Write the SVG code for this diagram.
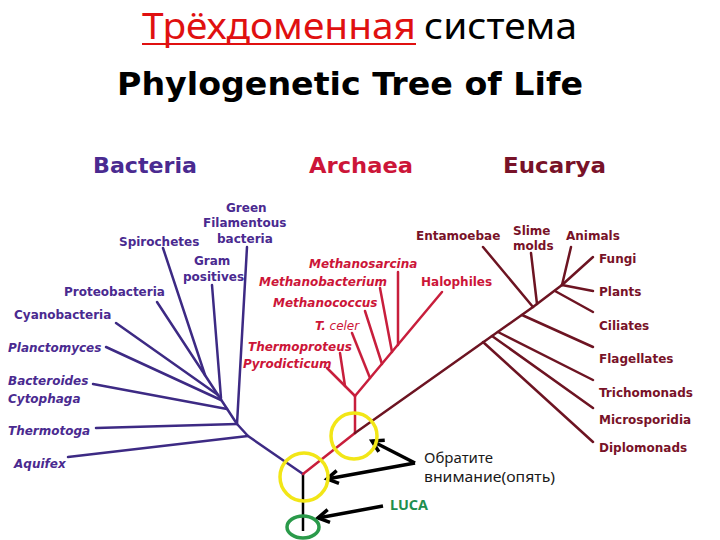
<svg xmlns="http://www.w3.org/2000/svg" width="720" height="540" viewBox="0 0 720 540">
<defs>
<style>
.lbl{font-family:"DejaVu Sans",Verdana,sans-serif;font-weight:bold;font-size:12px}
.it{font-style:italic}
.bac{fill:#4a2a90}
.arc{fill:#cc1538}
.euc{fill:#781228}
.hdr{font-family:"DejaVu Sans",Verdana,sans-serif;font-weight:bold;font-size:21.5px}
.lb{stroke:#3d2a84;stroke-width:2.5;fill:none;stroke-linecap:round;stroke-linejoin:round}
.la{stroke:#c81e3c;stroke-width:2.5;fill:none;stroke-linecap:round;stroke-linejoin:round}
.le{stroke:#6d1422;stroke-width:2.5;fill:none;stroke-linecap:round;stroke-linejoin:round}
.arrow{stroke:#000;stroke-width:3.5;fill:none;marker-end:url(#ah)}
.yc{fill:none;stroke:#f2e617;stroke-width:3.5}
.note{font-family:"Noto Sans","Open Sans",sans-serif;font-size:15px;fill:#1a1a1a}
</style>
<marker id="ah" markerUnits="userSpaceOnUse" markerWidth="20" markerHeight="20" refX="14" refY="8" orient="auto" viewBox="0 0 20 16">
<path d="M3,1.5 L14,8 L3,14.5" fill="none" stroke="#000" stroke-width="3.5" stroke-linejoin="miter"/>
</marker>
</defs>
<rect width="720" height="540" fill="#ffffff"/>

<g id="title">
<text x="142" y="39" font-family="'Noto Sans','Open Sans',sans-serif" font-size="36" fill="#e01010" textLength="274" lengthAdjust="spacingAndGlyphs">Трёхдоменная</text>
<line x1="142" y1="44" x2="416" y2="44" stroke="#e01010" stroke-width="2"/>
<text x="424" y="39" font-family="'Noto Sans','Open Sans',sans-serif" font-size="36" fill="#000" textLength="153" lengthAdjust="spacingAndGlyphs">система</text>
<text x="117" y="95" font-family="'DejaVu Sans',Verdana,sans-serif" font-weight="bold" font-size="32" fill="#000" textLength="466" lengthAdjust="spacingAndGlyphs">Phylogenetic Tree of Life</text>
</g>

<g id="headers">
<text class="hdr bac" x="93" y="173" textLength="104" lengthAdjust="spacingAndGlyphs">Bacteria</text>
<text class="hdr arc" x="309" y="173" textLength="104" lengthAdjust="spacingAndGlyphs">Archaea</text>
<text class="hdr euc" x="503" y="173" textLength="103" lengthAdjust="spacingAndGlyphs">Eucarya</text>
</g>

<g id="connectors">
<!-- root -->
<line x1="303" y1="474" x2="303" y2="531" stroke="#000" stroke-width="2.5"/>
<!-- bacteria -->
<polyline class="lb" points="303,474 248,436 237,424 218,395"/>
<line class="lb" x1="68" y1="457" x2="248" y2="436"/>
<line class="lb" x1="96" y1="428" x2="237" y2="424"/>
<line class="lb" x1="247" y1="247" x2="237" y2="424"/>
<line class="lb" x1="93" y1="384" x2="227" y2="409"/>
<line class="lb" x1="106" y1="347" x2="221" y2="400"/>
<line class="lb" x1="116" y1="323" x2="218" y2="395"/>
<line class="lb" x1="157" y1="302" x2="218" y2="395"/>
<line class="lb" x1="163" y1="248" x2="205" y2="375"/>
<line class="lb" x1="212" y1="285" x2="221" y2="398"/>
<!-- archaea -->
<line class="la" x1="303" y1="474" x2="355" y2="433"/>
<line class="la" x1="355" y1="433" x2="355" y2="396"/>
<line class="la" x1="355" y1="396" x2="327" y2="368"/>
<line class="la" x1="345" y1="386" x2="340" y2="353"/>
<line class="la" x1="355" y1="396" x2="442" y2="292"/>
<line class="la" x1="370" y1="378" x2="352" y2="333"/>
<line class="la" x1="382" y1="364" x2="365" y2="311"/>
<line class="la" x1="392" y1="352" x2="380" y2="288"/>
<line class="la" x1="398" y1="345" x2="398" y2="272"/>
<!-- eucarya -->
<polyline class="le" points="355,433 533,307 562,285"/>
<line class="le" x1="483" y1="342" x2="593" y2="442"/>
<line class="le" x1="492" y1="336" x2="593" y2="408"/>
<line class="le" x1="498" y1="332" x2="593" y2="380"/>
<line class="le" x1="522" y1="315" x2="593" y2="347"/>
<line class="le" x1="483" y1="247" x2="533" y2="307"/>
<line class="le" x1="531" y1="253" x2="537" y2="304"/>
<line class="le" x1="555" y1="291" x2="593" y2="312"/>
<line class="le" x1="562" y1="285" x2="593" y2="291"/>
<line class="le" x1="562" y1="285" x2="593" y2="257"/>
<line class="le" x1="571" y1="247" x2="562" y2="285"/>
<!-- annotation arrows -->
<line class="arrow" x1="415" y1="463" x2="372" y2="441"/>
<line class="arrow" x1="415" y1="463" x2="327" y2="479"/>
<line class="arrow" x1="383" y1="506" x2="318" y2="518"/>
</g>

<g id="bacteria-labels">
<text class="lbl bac" x="226" y="212">Green</text>
<text class="lbl bac" x="203" y="227">Filamentous</text>
<text class="lbl bac" x="217" y="243">bacteria</text>
<text class="lbl bac" x="119" y="246">Spirochetes</text>
<text class="lbl bac" x="194" y="265">Gram</text>
<text class="lbl bac" x="183" y="281">positives</text>
<text class="lbl bac" x="64" y="296">Proteobacteria</text>
<text class="lbl bac" x="14" y="319">Cyanobacteria</text>
<text class="lbl bac it" x="8" y="352">Planctomyces</text>
<text class="lbl bac it" x="8" y="385">Bacteroides</text>
<text class="lbl bac it" x="8" y="403">Cytophaga</text>
<text class="lbl bac it" x="8" y="435">Thermotoga</text>
<text class="lbl bac it" x="14" y="468">Aquifex</text>
</g>

<g id="archaea-labels">
<text class="lbl arc it" x="309" y="268">Methanosarcina</text>
<text class="lbl arc it" x="259" y="286">Methanobacterium</text>
<text class="lbl arc" x="421" y="286">Halophiles</text>
<text class="lbl arc it" x="273" y="307">Methanococcus</text>
<text class="lbl arc it" x="315" y="330">T.<tspan font-weight="normal"> celer</tspan></text>
<text class="lbl arc it" x="248" y="351">Thermoproteus</text>
<text class="lbl arc it" x="243" y="368">Pyrodicticum</text>
</g>

<g id="eucarya-labels">
<text class="lbl euc" x="416" y="240">Entamoebae</text>
<text class="lbl euc" x="513" y="235">Slime</text>
<text class="lbl euc" x="513" y="250">molds</text>
<text class="lbl euc" x="566" y="240">Animals</text>
<text class="lbl euc" x="599" y="263">Fungi</text>
<text class="lbl euc" x="599" y="296">Plants</text>
<text class="lbl euc" x="599" y="330">Ciliates</text>
<text class="lbl euc" x="599" y="363">Flagellates</text>
<text class="lbl euc" x="599" y="397">Trichomonads</text>
<text class="lbl euc" x="599" y="424">Microsporidia</text>
<text class="lbl euc" x="599" y="452">Diplomonads</text>
</g>

<g id="highlights">
<circle class="yc" cx="304" cy="477" r="24"/>
<circle class="yc" cx="354" cy="436" r="23"/>
<ellipse cx="303" cy="527" rx="16" ry="11" fill="none" stroke="#2a9a4a" stroke-width="3.5"/>
</g>

<g id="annotations">
<text class="note" x="424" y="463" textLength="69" lengthAdjust="spacingAndGlyphs">Обратите</text>
<text class="note" x="424" y="482" textLength="131" lengthAdjust="spacingAndGlyphs">внимание(опять)</text>
<text x="390" y="510" font-family="'Noto Sans','Open Sans',sans-serif" font-weight="bold" font-size="14" fill="#1e8f4e" textLength="38" lengthAdjust="spacingAndGlyphs">LUCA</text>
</g>
</svg>
